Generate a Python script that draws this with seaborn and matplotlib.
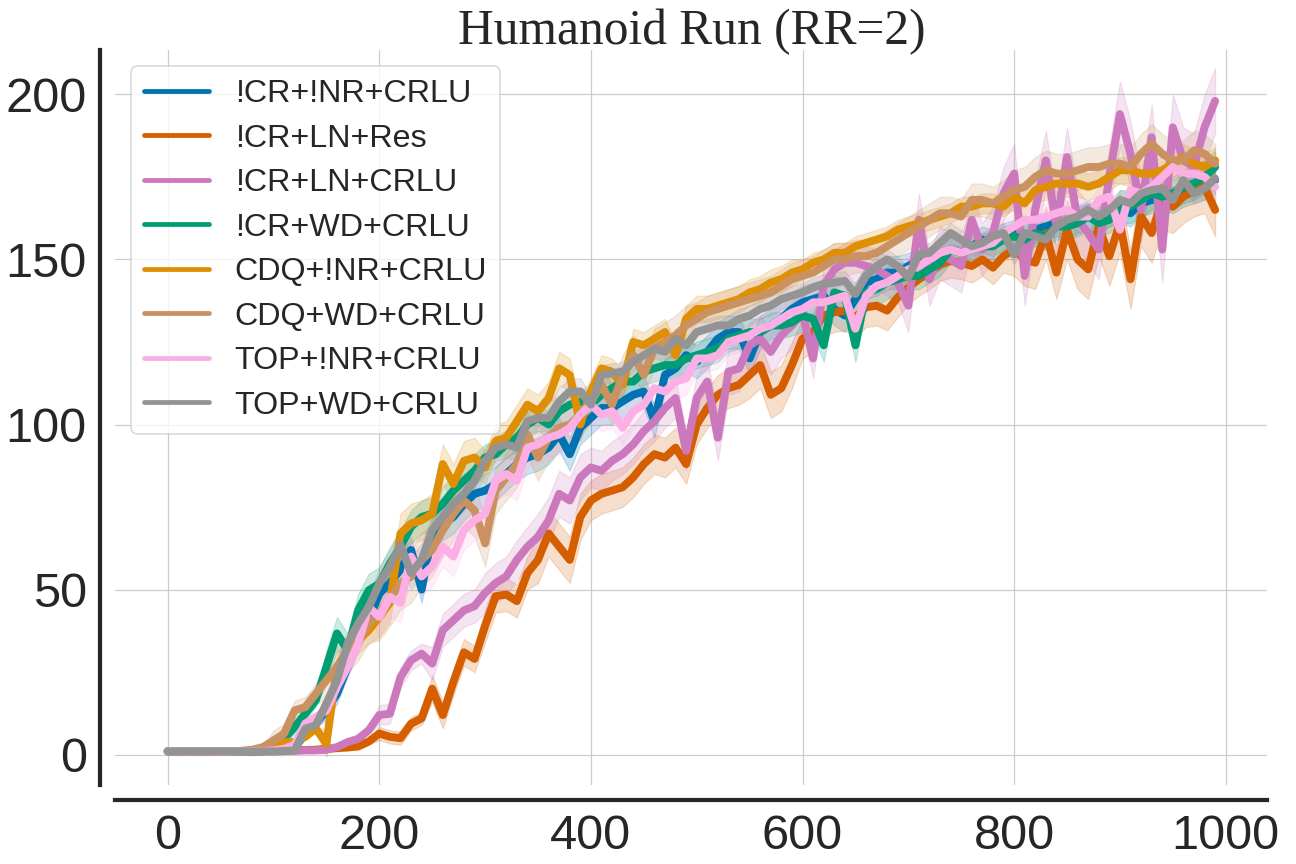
"""
Humanoid Run (RR=2) - learning curves for eight critic variants
"""

import numpy as np
import pandas as pd
import matplotlib
matplotlib.use("Agg")
import matplotlib.pyplot as plt
import seaborn as sns

# environment steps (x axis), one point every 10
steps = list(range(0, 1000, 10))

labels = ['!CR+!NR+CRLU', '!CR+LN+Res', '!CR+LN+CRLU', '!CR+WD+CRLU',
          'CDQ+!NR+CRLU', 'CDQ+WD+CRLU', 'TOP+!NR+CRLU', 'TOP+WD+CRLU']

cr_nonr = [1.0, 1.0, 1.0, 1.0, 1.1, 1.0, 1.0, 1.0, 1.0, 1.0,
           1.2, 1.4, 2.0, 6.4, 9.4, 13.4, 18.5, 26.6, 34.6, 40.7,
           48.8, 52.0, 56.0, 62.0, 50.0, 67.0, 70.0, 72.0, 76.0, 79.0,
           80.0, 82.0, 85.0, 88.0, 90.0, 91.0, 93.0, 97.0, 91.0, 99.0,
           102.0, 105.0, 105.0, 107.0, 109.0, 110.0, 101.0, 115.0, 117.0, 121.0,
           119.0, 122.0, 126.0, 128.0, 128.0, 120.0, 128.0, 130.0, 132.0, 135.0,
           137.0, 138.0, 139.0, 135.0, 133.0, 138.0, 143.0, 144.0, 146.0, 146.0,
           148.0, 150.0, 149.0, 151.0, 153.0, 152.0, 154.0, 156.0, 155.0, 157.0,
           158.0, 157.0, 159.0, 160.0, 161.0, 160.0, 162.0, 163.0, 162.0, 164.0,
           165.0, 164.0, 167.0, 168.0, 169.0, 168.0, 170.0, 171.0, 172.0, 174.0]

cr_ln_res = [1.0, 1.0, 1.1, 1.0, 0.9, 1.0, 1.1, 1.0, 1.0, 1.1,
             1.2, 1.2, 1.3, 1.4, 1.5, 1.8, 2.0, 2.2, 2.5, 4.0,
             6.4, 5.4, 5.0, 9.4, 11.0, 20.0, 12.0, 22.0, 31.0, 29.0,
             39.0, 48.0, 48.5, 46.5, 55.0, 59.0, 67.0, 63.0, 59.0, 72.0,
             77.0, 79.0, 80.0, 81.0, 84.0, 88.0, 91.0, 90.0, 93.0, 88.0,
             100.0, 105.0, 109.0, 111.0, 112.0, 115.0, 118.0, 109.0, 111.0, 118.0,
             126.0, 128.0, 133.0, 134.0, 134.5, 132.5, 135.5, 136.0, 134.5, 138.5,
             141.5, 144.0, 146.0, 148.5, 149.5, 149.0, 148.0, 150.0, 147.5, 151.0,
             153.0, 150.0, 149.0, 158.0, 146.0, 159.0, 150.0, 147.0, 160.0, 151.0,
             161.0, 144.0, 163.0, 158.0, 168.0, 166.0, 169.0, 171.0, 172.0, 165.0]

cr_ln_crlu = [1.0, 1.0, 1.0, 1.1, 1.0, 0.9, 1.0, 1.0, 1.1, 1.0,
              1.0, 1.1, 1.2, 1.3, 1.3, 1.5, 2.3, 3.8, 4.8, 7.4,
              12.0, 12.4, 23.5, 28.6, 30.6, 27.6, 37.7, 40.7, 43.7, 45.0,
              49.0, 52.0, 54.0, 59.0, 63.0, 66.0, 71.0, 79.0, 77.0, 84.0,
              87.0, 86.0, 89.0, 91.0, 94.0, 98.0, 101.0, 105.0, 108.0, 92.0,
              108.0, 113.0, 96.0, 116.0, 117.0, 124.0, 126.0, 122.0, 127.0, 130.0,
              134.0, 120.0, 142.0, 147.0, 149.0, 149.0, 148.0, 147.0, 145.0, 143.0,
              136.0, 162.0, 144.0, 152.0, 150.0, 148.0, 162.0, 153.0, 158.0, 170.0,
              176.0, 145.0, 165.0, 180.0, 160.0, 181.0, 162.0, 158.0, 153.0, 175.0,
              194.0, 182.0, 165.0, 187.0, 153.0, 190.0, 180.0, 178.0, 190.0, 198.0]

cr_wd = [1.0, 1.0, 1.0, 1.0, 1.0, 1.1, 1.0, 1.0, 1.0, 1.5,
         3.3, 4.8, 8.4, 12.4, 16.5, 26.6, 36.7, 31.6, 43.7, 49.8,
         51.8, 57.9, 63.0, 69.0, 72.0, 73.0, 76.0, 80.0, 83.0, 86.0,
         90.0, 91.0, 94.0, 96.0, 100.0, 102.0, 100.0, 104.0, 106.0, 107.0,
         106.0, 109.0, 111.0, 113.0, 113.0, 116.0, 117.0, 118.0, 118.0, 120.0,
         121.0, 122.0, 123.0, 126.0, 127.0, 128.0, 128.0, 130.0, 130.0, 131.0,
         133.0, 132.0, 124.0, 140.0, 139.0, 124.0, 140.0, 141.0, 143.0, 144.0,
         145.0, 145.0, 147.0, 149.0, 153.0, 152.0, 153.0, 154.0, 154.0, 156.0,
         157.0, 156.0, 158.0, 157.0, 160.0, 160.0, 161.0, 163.0, 161.0, 162.0,
         166.0, 166.0, 168.0, 170.0, 169.0, 170.0, 172.0, 173.0, 175.0, 178.0]

cdq_nonr = [1.0, 1.0, 1.0, 1.0, 1.0, 1.0, 1.0, 1.1, 1.2, 1.5,
            2.0, 3.8, 3.8, 5.4, 7.9, 3.3, 26.6, 31.6, 34.6, 37.7,
            41.7, 46.0, 67.0, 70.0, 71.0, 73.0, 88.0, 82.0, 89.0, 90.0,
            87.0, 95.0, 96.0, 101.0, 106.0, 104.0, 108.0, 117.0, 115.0, 100.0,
            110.0, 117.0, 116.0, 112.0, 125.0, 124.0, 126.0, 128.0, 121.0, 132.0,
            135.0, 135.0, 136.0, 137.0, 138.0, 140.0, 141.0, 143.0, 144.0, 146.0,
            147.0, 149.0, 150.0, 152.0, 152.0, 154.0, 155.0, 156.0, 157.0, 159.0,
            160.0, 161.0, 162.0, 163.0, 164.0, 166.0, 166.0, 167.0, 167.0, 166.0,
            169.0, 167.0, 171.0, 172.0, 173.0, 173.0, 173.0, 172.0, 173.0, 175.0,
            177.0, 177.0, 176.0, 176.0, 177.0, 179.0, 181.0, 179.0, 178.0, 180.0]

cdq_wd = [1.0, 1.0, 1.0, 1.0, 1.0, 1.0, 1.0, 1.2, 1.5, 2.3,
          4.3, 6.4, 13.4, 14.4, 18.5, 22.5, 26.6, 30.6, 34.6, 39.7,
          42.7, 47.0, 52.0, 54.0, 59.0, 62.0, 68.0, 73.0, 77.0, 74.0,
          64.0, 80.0, 84.0, 88.0, 97.0, 90.0, 96.0, 99.0, 100.0, 103.0,
          107.0, 112.0, 106.0, 115.0, 121.0, 115.0, 123.0, 125.0, 127.0, 130.0,
          132.0, 134.0, 135.0, 136.0, 137.0, 138.0, 139.0, 140.0, 142.0, 144.0,
          145.0, 146.0, 148.0, 150.0, 150.0, 151.0, 151.0, 152.0, 154.0, 156.0,
          158.0, 160.0, 162.0, 164.0, 164.0, 163.0, 168.0, 168.0, 167.0, 169.0,
          171.0, 172.0, 175.0, 177.0, 176.0, 176.0, 177.0, 178.0, 178.0, 179.0,
          179.0, 178.0, 182.0, 185.0, 182.0, 180.0, 180.0, 183.0, 182.0, 179.0]

top_nonr = [1.0, 1.0, 1.0, 1.0, 1.0, 1.0, 1.0, 1.0, 1.1, 1.1,
            1.3, 1.8, 3.0, 9.4, 11.4, 13.4, 20.5, 26.6, 33.6, 44.7,
            41.7, 47.8, 46.0, 60.0, 54.0, 57.0, 63.0, 60.0, 68.0, 71.0,
            73.0, 83.0, 85.0, 83.0, 93.0, 94.0, 96.0, 97.0, 99.0, 103.0,
            106.0, 103.0, 104.0, 99.0, 104.0, 106.0, 111.0, 110.0, 113.0, 114.0,
            120.0, 120.0, 121.0, 125.0, 126.0, 127.0, 129.0, 130.0, 132.0, 134.0,
            135.0, 137.0, 137.0, 138.0, 139.0, 129.0, 139.0, 142.0, 143.0, 145.0,
            147.0, 148.0, 150.0, 152.0, 153.0, 152.0, 153.0, 154.0, 155.0, 158.0,
            160.0, 162.0, 162.0, 163.0, 164.0, 165.0, 163.0, 163.0, 168.0, 169.0,
            159.0, 171.0, 170.0, 172.0, 175.0, 178.0, 176.0, 176.0, 175.0, 172.0]

top_wd = [1.0, 1.0, 1.0, 1.0, 1.0, 1.0, 1.0, 1.0, 1.0, 1.0,
          1.0, 1.1, 1.3, 7.9, 8.9, 15.5, 22.5, 33.6, 39.7, 44.7,
          51.8, 57.0, 63.5, 55.0, 59.0, 68.0, 72.0, 76.0, 79.0, 83.0,
          89.0, 93.0, 94.0, 93.0, 101.0, 102.0, 102.0, 107.0, 110.0, 110.0,
          106.0, 115.0, 115.5, 116.0, 119.0, 121.0, 123.0, 122.0, 126.0, 124.0,
          128.0, 129.0, 130.0, 130.0, 132.0, 133.0, 135.0, 136.0, 138.0, 139.0,
          140.0, 141.5, 142.5, 143.0, 143.5, 139.5, 145.0, 148.0, 150.0, 148.0,
          144.5, 151.5, 152.0, 155.0, 158.0, 156.0, 154.0, 155.0, 157.0, 158.0,
          151.5, 158.0, 157.0, 156.0, 160.0, 162.0, 163.0, 165.0, 163.0, 165.0,
          168.0, 167.0, 170.0, 171.0, 171.5, 168.0, 174.0, 170.0, 171.5, 174.5]

# half width of the shaded band, one reading per 50 steps
band_cr_nonr = [0.3, 0.3, 1, 3, 4, 5, 5, 5, 5, 5, 5, 5, 5, 5, 4, 4, 4, 4, 4, 4]
band_cr_ln_res = [0.3, 0.3, 0.5, 1, 2, 4, 5, 7, 6, 6, 6, 7, 6, 6, 5, 5, 8, 9, 9, 8]
band_cr_ln_crlu = [0.3, 0.3, 0.5, 1, 3, 5, 6, 7, 6, 6, 7, 7, 6, 6, 8, 8, 9, 9, 10, 10]
band_cr_wd = [0.3, 0.3, 2, 5, 5, 5, 4, 4, 4, 4, 4, 4, 5, 5, 4, 4, 4, 4, 5, 5]
band_cdq_nonr = [0.3, 0.3, 1, 4, 6, 6, 5, 5, 4, 4, 4, 4, 3, 3, 3, 3, 4, 4, 4, 4]
band_cdq_wd = [0.3, 0.3, 3, 6, 8, 8, 7, 7, 6, 6, 5, 5, 5, 5, 5, 5, 6, 6, 6, 6]
band_top_nonr = [0.3, 0.3, 1, 3, 6, 6, 6, 6, 5, 5, 4, 4, 4, 4, 4, 4, 4, 4, 4, 4]
band_top_wd = [0.3, 0.3, 1, 3, 5, 5, 4, 4, 3, 3, 3, 3, 3, 3, 3, 3, 3, 3, 3, 3]

series = [cr_nonr, cr_ln_res, cr_ln_crlu, cr_wd, cdq_nonr, cdq_wd, top_nonr, top_wd]
bands = [band_cr_nonr, band_cr_ln_res, band_cr_ln_crlu, band_cr_wd,
         band_cdq_nonr, band_cdq_wd, band_top_nonr, band_top_wd]

cb = sns.color_palette('colorblind')
colors = [cb[0], cb[3], cb[4], cb[2], cb[1], cb[5], cb[6], cb[7]]

sns.set_theme(style='whitegrid', rc={'grid.linewidth': 0.8})
plt.rcParams['font.family'] = ['Liberation Sans', 'DejaVu Sans']

df = pd.concat([pd.DataFrame({'step': steps, 'return': vals, 'method': name})
                for name, vals in zip(labels, series)], ignore_index=True)

fig, ax = plt.subplots(figsize=(12, 8), dpi=108)
fig.subplots_adjust(left=0.089, right=0.978, bottom=0.091, top=0.942)

sns.lineplot(data=df, x='step', y='return', hue='method', hue_order=labels,
             palette=colors, linewidth=5.3, errorbar=None, ax=ax)

# shaded spread around each curve
for vals, bw, col in zip(series, bands, colors):
    half = np.repeat(bw, 5)
    ax.fill_between(steps, np.array(vals) - half, np.array(vals) + half,
                    color=col, alpha=0.2, linewidth=0.8)

ax.set_xlim(-49.5, 1039.5)
ax.set_ylim(-9.3, 213.4)
ax.set_xlabel('')
ax.set_ylabel('')
ax.set_title('Humanoid Run (RR=2)', fontsize=33, family='Liberation Serif',
             color='#262626', pad=4)
ax.tick_params(axis='both', labelsize=32.5, colors='#262626', pad=3)
ax.set_yticks([0, 50, 100, 150, 200])
ax.set_xticks([0, 200, 400, 600, 800, 1000])

sns.despine(ax=ax, offset=10)
for side in ['left', 'bottom']:
    ax.spines[side].set_color('#262626')
    ax.spines[side].set_linewidth(2.8)

handles, names = ax.get_legend_handles_labels()
leg = ax.legend(handles, names, loc='upper left', fontsize=21.5,
                labelspacing=0.45, borderaxespad=0.5, frameon=True)
for line in leg.get_lines():
    line.set_linewidth(3.2)

fig.savefig('out.png', dpi=108)
